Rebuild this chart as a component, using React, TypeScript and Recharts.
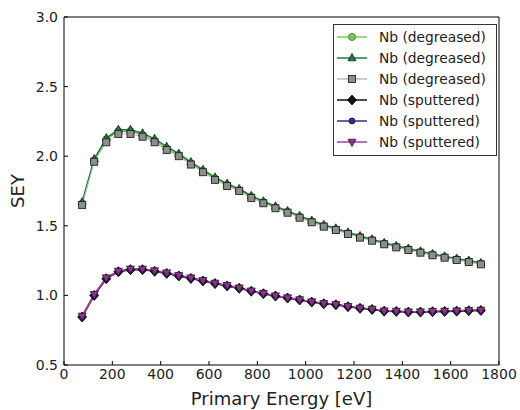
import React from 'react';
import { LineChart, Line, XAxis, YAxis, Legend } from 'recharts';

const energies = [75, 125, 175, 225, 275, 325, 375, 425, 475, 525, 575, 625, 675, 725, 775, 825, 875, 925, 975, 1025, 1075, 1125, 1175, 1225, 1275, 1325, 1375, 1425, 1475, 1525, 1575, 1625, 1675, 1725];

const degreasedA = [1.66, 1.97, 2.12, 2.18, 2.18, 2.15, 2.11, 2.055, 2.008, 1.948, 1.893, 1.838, 1.793, 1.756, 1.708, 1.669, 1.632, 1.6, 1.564, 1.531, 1.5, 1.475, 1.446, 1.42, 1.398, 1.372, 1.35, 1.331, 1.311, 1.293, 1.275, 1.259, 1.245, 1.228];
const degreasedB = [1.67, 1.98, 2.13, 2.19, 2.19, 2.165, 2.125, 2.068, 2.018, 1.958, 1.903, 1.848, 1.803, 1.765, 1.716, 1.677, 1.64, 1.607, 1.571, 1.538, 1.507, 1.482, 1.453, 1.427, 1.404, 1.378, 1.356, 1.337, 1.317, 1.298, 1.281, 1.264, 1.25, 1.233];
const degreasedC = [1.65, 1.96, 2.1, 2.16, 2.16, 2.14, 2.1, 2.045, 2.0, 1.94, 1.885, 1.83, 1.786, 1.75, 1.7, 1.662, 1.626, 1.594, 1.558, 1.525, 1.494, 1.47, 1.441, 1.415, 1.393, 1.367, 1.345, 1.326, 1.307, 1.288, 1.271, 1.254, 1.24, 1.223];
const sputteredA = [0.845, 1.0, 1.12, 1.17, 1.185, 1.185, 1.173, 1.158, 1.14, 1.122, 1.104, 1.085, 1.068, 1.051, 1.03, 1.012, 0.995, 0.981, 0.967, 0.952, 0.94, 0.933, 0.919, 0.907, 0.899, 0.887, 0.885, 0.88, 0.88, 0.883, 0.885, 0.887, 0.89, 0.892];
const sputteredB = [0.848, 1.004, 1.124, 1.172, 1.188, 1.188, 1.176, 1.16, 1.142, 1.125, 1.106, 1.087, 1.07, 1.053, 1.031, 1.013, 0.996, 0.982, 0.968, 0.953, 0.941, 0.934, 0.92, 0.908, 0.9, 0.888, 0.886, 0.881, 0.881, 0.884, 0.886, 0.888, 0.891, 0.893];
const sputteredC = [0.852, 1.008, 1.127, 1.175, 1.19, 1.19, 1.178, 1.163, 1.144, 1.127, 1.108, 1.089, 1.072, 1.055, 1.033, 1.015, 0.998, 0.984, 0.97, 0.955, 0.943, 0.936, 0.922, 0.91, 0.902, 0.89, 0.888, 0.883, 0.883, 0.886, 0.888, 0.89, 0.893, 0.895];

const xTicks = [0, 200, 400, 600, 800, 1000, 1200, 1400, 1600, 1800];
const yTicks = [0.5, 1.0, 1.5, 2.0, 2.5, 3.0];

const seriesNames = ['Nb (degreased)', 'Nb (degreased)', 'Nb (degreased)', 'Nb (sputtered)', 'Nb (sputtered)', 'Nb (sputtered)'];

const data = energies.map((e, i) => ({
  e,
  dA: degreasedA[i],
  dB: degreasedB[i],
  dC: degreasedC[i],
  sA: sputteredA[i],
  sB: sputteredB[i],
  sC: sputteredC[i],
}));

type Shape = 'circle' | 'triangle' | 'square' | 'diamond' | 'smallcircle' | 'tridown';

const styles: { key: string; line: string; fill: string; edge: string; shape: Shape; width: number }[] = [
  { key: 'dA', line: '#78c850', fill: '#78c850', edge: '#3d7a25', shape: 'circle', width: 1.5 },
  { key: 'dB', line: '#1d7b3d', fill: '#1d7b3d', edge: '#0a2a12', shape: 'triangle', width: 1.5 },
  { key: 'dC', line: '#bdbdbd', fill: '#8e8e8e', edge: '#222222', shape: 'square', width: 1 },
  { key: 'sA', line: '#111111', fill: '#111111', edge: '#000000', shape: 'diamond', width: 1.5 },
  { key: 'sB', line: '#3d2a86', fill: '#3d2a86', edge: '#1a1040', shape: 'smallcircle', width: 1.5 },
  { key: 'sC', line: '#a2429f', fill: '#932f91', edge: '#222222', shape: 'tridown', width: 1.6 },
];

const marker = (shape: Shape, cx: number, cy: number, fill: string, edge: string, k?: string) => {
  switch (shape) {
    case 'circle':
      return <circle key={k} cx={cx} cy={cy} r={3.6} fill={fill} stroke={edge} strokeWidth={0.8} />;
    case 'smallcircle':
      return <circle key={k} cx={cx} cy={cy} r={3} fill={fill} stroke={edge} strokeWidth={0.8} />;
    case 'triangle':
      return <polygon key={k} points={`${cx},${cy - 4.5} ${cx - 4},${cy + 2.8} ${cx + 4},${cy + 2.8}`} fill={fill} stroke={edge} strokeWidth={0.8} />;
    case 'tridown':
      return <polygon key={k} points={`${cx},${cy + 4.5} ${cx - 4},${cy - 2.8} ${cx + 4},${cy - 2.8}`} fill={fill} stroke={edge} strokeWidth={0.8} />;
    case 'square':
      return <rect key={k} x={cx - 3.5} y={cy - 3.5} width={7} height={7} fill={fill} stroke={edge} strokeWidth={0.9} />;
    case 'diamond':
      return <polygon key={k} points={`${cx},${cy - 5} ${cx + 4.5},${cy} ${cx},${cy + 5} ${cx - 4.5},${cy}`} fill={fill} stroke={edge} strokeWidth={0.8} />;
  }
};

const makeDot = (s: (typeof styles)[number]) => (props: any) => {
  const { cx, cy, index } = props;
  if (cx == null || cy == null) return <g key={`${s.key}-${index}`} />;
  return marker(s.shape, cx, cy, s.fill, s.edge, `${s.key}-${index}`);
};

const LegendBox = () => (
  <div
    style={{
      boxSizing: 'border-box',
      width: 164,
      height: 132,
      border: '1px solid #333',
      background: '#fff',
      paddingTop: 2,
      fontFamily: '"DejaVu Sans", sans-serif',
      fontSize: 13.8,
      color: '#222',
    }}
  >
    {styles.map((s, i) => (
      <div key={s.key} style={{ display: 'flex', alignItems: 'center', height: 20.9 }}>
        <svg width={34} height={20} style={{ display: 'block' }}>
          <line x1={3} x2={33} y1={10} y2={10} stroke={s.line} strokeWidth={1.5} />
          {marker(s.shape, 18, 10, s.fill, s.edge)}
        </svg>
        <span style={{ marginLeft: 11, whiteSpace: 'nowrap', lineHeight: '20px' }}>{seriesNames[i]}</span>
      </div>
    ))}
  </div>
);

const YLabel = (props: any) => {
  const vb = props.viewBox || {};
  const cx = 17;
  const cy = vb.y != null && vb.height != null ? vb.y + vb.height / 2 : 191;
  return (
    <text x={cx} y={cy} transform={`rotate(-90 ${cx} ${cy})`} textAnchor="middle" dominantBaseline="central" fontSize={18} fill="#222" fontFamily='"DejaVu Sans", sans-serif'>
      SEY
    </text>
  );
};

const XLabel = (props: any) => {
  const vb = props.viewBox || {};
  const cx = vb.x != null && vb.width != null ? vb.x + vb.width / 2 : 281;
  return (
    <text x={cx} y={404.5} textAnchor="middle" fontSize={18} fill="#222" fontFamily='"DejaVu Sans", sans-serif'>
      Primary Energy [eV]
    </text>
  );
};

const tickStyle = { fontSize: 14, fill: '#222', fontFamily: '"DejaVu Sans", sans-serif' };

export default function App() {
  return (
    <div style={{ position: 'absolute', left: 0, top: 0, width: 520, height: 410, background: '#fff' }}>
      <LineChart width={520} height={410} data={data} margin={{ top: 16, right: 20, bottom: 0, left: 0 }}>
        <XAxis
          dataKey="e"
          type="number"
          domain={[0, 1800]}
          ticks={xTicks}
          allowDataOverflow
          height={45}
          tickSize={-4}
          tickMargin={8}
          tick={tickStyle}
          axisLine={{ stroke: '#000' }}
          tickLine={{ stroke: '#000' }}
          label={<XLabel />}
        />
        <XAxis
          xAxisId="top"
          dataKey="e"
          orientation="top"
          type="number"
          domain={[0, 1800]}
          ticks={xTicks}
          allowDataOverflow
          height={1}
          tickSize={-4}
          tick={false}
          axisLine={{ stroke: '#000' }}
          tickLine={{ stroke: '#000' }}
        />
        <YAxis
          type="number"
          domain={[0.5, 3.0]}
          ticks={yTicks}
          allowDataOverflow
          width={64}
          tickSize={-4}
          tickMargin={10}
          tick={tickStyle}
          tickFormatter={(v: number) => v.toFixed(1)}
          axisLine={{ stroke: '#000' }}
          tickLine={{ stroke: '#000' }}
          label={<YLabel />}
        />
        <YAxis
          yAxisId="right"
          orientation="right"
          type="number"
          domain={[0.5, 3.0]}
          ticks={yTicks}
          allowDataOverflow
          width={1}
          tickSize={-4}
          tick={false}
          axisLine={{ stroke: '#000' }}
          tickLine={{ stroke: '#000' }}
        />
        <Line
          dataKey="sA"
          xAxisId="top"
          yAxisId="right"
          stroke="none"
          dot={false}
          activeDot={false}
          legendType="none"
          isAnimationActive={false}
        />
        {styles.map((s) => (
          <Line
            key={s.key}
            dataKey={s.key}
            type="linear"
            stroke={s.line}
            strokeWidth={s.width}
            dot={makeDot(s)}
            activeDot={false}
            isAnimationActive={false}
          />
        ))}
        <Legend
          layout="vertical"
          align="center"
          verticalAlign="middle"
          content={<LegendBox />}
          wrapperStyle={{ position: 'absolute', left: 333, top: 24, width: 164, height: 132 }}
        />
      </LineChart>
    </div>
  );
}
